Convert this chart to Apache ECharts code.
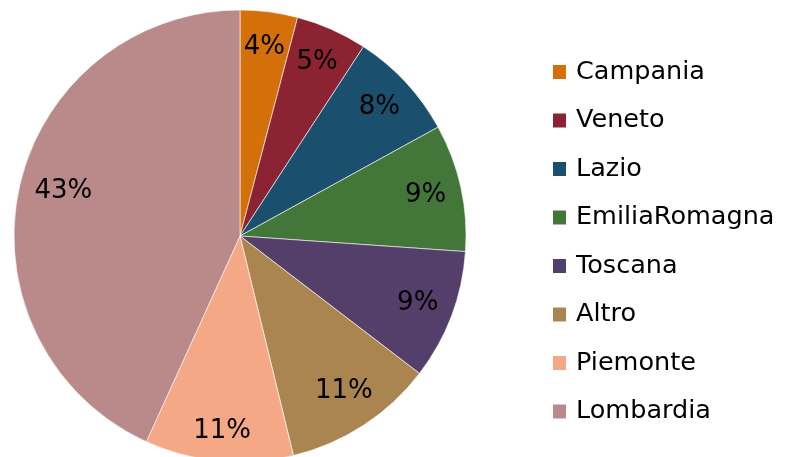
<!DOCTYPE html>
<html><head><meta charset="utf-8">
<script src="https://cdn.jsdelivr.net/npm/echarts@6/dist/echarts.min.js"></script>
<style>html,body{margin:0;padding:0;background:#fff}#c{width:785px;height:457px}</style>
</head><body><div id="c"></div>
<script>
const categories = ['Campania','Veneto','Lazio','EmiliaRomagna','Toscana','Altro','Piemonte','Lombardia'];
const values = [4.1, 5.1, 7.8, 9.1, 9.3, 10.8, 10.6, 43.2];
const colors = ['#D4700A','#8C2332','#1A4F6E','#43773A','#533F6A','#AA854F','#F5A886','#BA8A8A'];
const labelShift = {Altro:[0,-4], Piemonte:[0,6], Lombardia:[9,-4]};

const data = categories.map((n,i)=>({name:n, value:values[i], itemStyle:{color:colors[i]}}));
const chart = echarts.init(document.getElementById('c'));
const font = 'DejaVu Sans';
chart.setOption({
  animation:false,
  legend:{
    orient:'vertical', left:546, top:54, itemWidth:15, itemHeight:16, itemGap:22.5,
    icon:'rect',
    textStyle:{fontFamily:font, fontSize:25.5, color:'#000', padding:[0,0,0,4]},
    data:categories
  },
  series:[{
    type:'pie', center:[240,236], radius:[0,226], startAngle:90, clockwise:true,
    silent:true, label:{show:false}, labelLine:{show:false},
    itemStyle:{borderColor:'#fff', borderWidth:0.6},
    data:data
  },{
    type:'pie', center:[240,236], radius:[148,226], startAngle:90, clockwise:true,
    silent:true, legendHoverLink:false,
    itemStyle:{color:'transparent'},
    label:{show:true, position:'inside', fontFamily:font, fontSize:26, color:'#000',
      formatter:p=>Math.round(p.percent)+'%'},
    labelLine:{show:false},
    data:categories.map((n,i)=>({name:n+'_l', value:values[i],
      label: labelShift[n] ? {offset: labelShift[n]} : undefined}))
  }]
});
</script></body></html>
